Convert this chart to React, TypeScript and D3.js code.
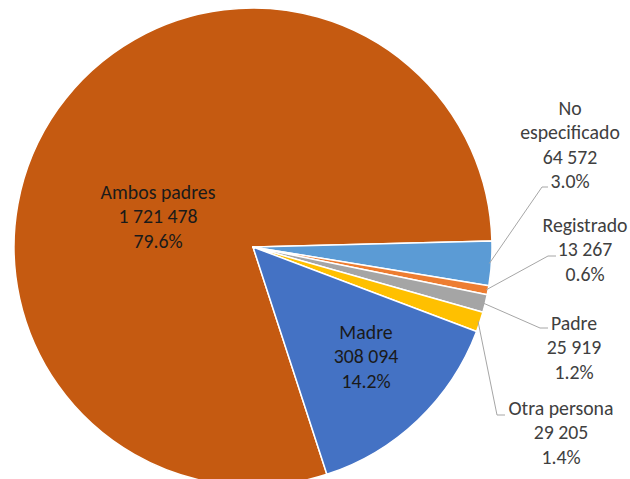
import React from "react";
import * as d3 from "d3";

const categories = ["Ambos padres", "No especificado", "Registrado", "Padre", "Otra persona", "Madre"];
const values = [1721478, 64572, 13267, 25919, 29205, 308094];
const colors = ["#C55A11", "#5B9BD5", "#ED7D31", "#A5A5A5", "#FFC000", "#4472C4"];
// label name lines (text only)
const nameLines = [["Ambos padres"], ["No", "especificado"], ["Registrado"], ["Padre"], ["Otra persona"], ["Madre"]];

// layout (label anchor centre x, first-line y, leader end)
const labelLayout = [
  { x: 158, y: 192, leader: null },
  { x: 570, y: 108, leader: [[542, 187], [548, 187]] },
  { x: 585, y: 225, leader: [[548, 256], [556, 256]] },
  { x: 574, y: 323, leader: [[540, 328], [548, 328]] },
  { x: 561, y: 408, leader: [[497, 415], [505, 415]] },
  { x: 366, y: 332, leader: null },
];

const W = 630, H = 479;
const cx = 253, cy = 247, R = 239;
const startDeg = 162;
const lineH = 24.5;

export default function App() {
  const total = d3.sum(values);
  const pie = d3.pie<number>().sort(null)
    .startAngle((startDeg * Math.PI) / 180)
    .endAngle((startDeg * Math.PI) / 180 + 2 * Math.PI);
  const arcs = pie(values);
  const arc = d3.arc<d3.PieArcDatum<number>>().innerRadius(0).outerRadius(R);
  const fmtNum = (v: number) => d3.format(",")(v).replace(/,/g, " ");
  const fmtPct = d3.format(".1%");

  return (
    <svg width={W} height={H} style={{ position: "absolute", left: 0, top: 0, background: "#fff" }}
      fontFamily="Carlito, Calibri, Lato, sans-serif">
      <g transform={`translate(${cx},${cy})`}>
        {arcs.map((a, i) => (
          <path key={i} d={arc(a) as string} fill={colors[i]} stroke="#fff" strokeWidth={1.5} strokeLinejoin="round" />
        ))}
      </g>
      {arcs.map((a, i) => {
        const L = labelLayout[i];
        if (!L.leader) return null;
        const mid = (a.startAngle + a.endAngle) / 2;
        const sx = cx + Math.sin(mid) * (R - 2);
        const sy = cy - Math.cos(mid) * (R - 2);
        const pts: [number, number][] = [[sx, sy], ...(L.leader as [number, number][])];
        return <path key={"l" + i} d={d3.line()(pts) as string} fill="none" stroke="#A6A6A6" strokeWidth={1} />;
      })}
      {arcs.map((a, i) => {
        const L = labelLayout[i];
        const lines = [...nameLines[i], fmtNum(values[i]), fmtPct(values[i] / total)];
        const inside = !L.leader;
        return (
          <text key={"t" + i} textAnchor="middle" fontSize={19.8} fill={inside ? "#1a1a1a" : "#404040"}>
            {lines.map((s, j) => (
              <tspan key={j} x={L.x} y={L.y + j * lineH} dy="0.35em">{s}</tspan>
            ))}
          </text>
        );
      })}
    </svg>
  );
}
